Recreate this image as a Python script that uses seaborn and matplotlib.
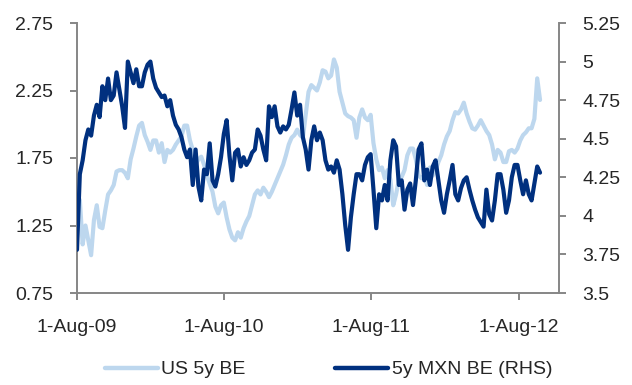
import numpy as np
import pandas as pd
import matplotlib
matplotlib.use("Agg")
import matplotlib.pyplot as plt
import seaborn as sns
from matplotlib.lines import Line2D
from matplotlib.ticker import FuncFormatter

start_date = "2009-08-01"

us_5y_be = [
    1.40, 1.44, 1.11, 1.25, 1.14, 1.03, 1.29, 1.40, 1.24, 1.23,
    1.36, 1.48, 1.51, 1.55, 1.65, 1.66, 1.66, 1.64, 1.60, 1.74,
    1.82, 1.91, 1.99, 2.01, 1.92, 1.87, 1.81, 1.88, 1.88, 1.79,
    1.86, 1.72, 1.81, 1.79, 1.81, 1.85, 1.88, 1.91, 1.99, 1.99,
    1.88, 1.81, 1.70, 1.74, 1.76, 1.70, 1.62, 1.56, 1.50, 1.39,
    1.34, 1.40, 1.42, 1.31, 1.22, 1.16, 1.14, 1.20, 1.16, 1.23,
    1.28, 1.32, 1.40, 1.48, 1.51, 1.48, 1.53, 1.50, 1.46, 1.50,
    1.55, 1.60, 1.65, 1.70, 1.77, 1.85, 1.90, 1.92, 1.96, 1.92,
    1.90, 2.07, 2.24, 2.29, 2.27, 2.25, 2.31, 2.40, 2.39, 2.34,
    2.36, 2.48, 2.42, 2.24, 2.16, 2.08, 2.06, 2.05, 2.03, 1.90,
    2.05, 2.11, 2.05, 2.03, 2.07, 1.86, 1.74, 1.66, 1.68, 1.60,
    1.66, 1.59, 1.40, 1.48, 1.59, 1.61, 1.66, 1.77, 1.82, 1.82,
    1.74, 1.62, 1.60, 1.62, 1.55, 1.68, 1.62, 1.66, 1.72, 1.77,
    1.85, 1.91, 1.95, 2.03, 2.09, 2.08, 2.11, 2.16, 2.08, 2.02,
    1.97, 1.96, 1.99, 2.03, 1.99, 1.95, 1.92, 1.85, 1.74, 1.81,
    1.79, 1.72, 1.72, 1.80, 1.81, 1.79, 1.82, 1.88, 1.92, 1.94,
    1.97, 1.97, 2.04, 2.34, 2.18,
]

mxn_5y_be = [
    3.78, 4.27, 4.36, 4.49, 4.56, 4.52, 4.65, 4.72, 4.64, 4.84,
    4.75, 4.89, 4.75, 4.78, 4.93, 4.82, 4.71, 4.57, 5.00, 4.93,
    4.86, 4.95, 4.84, 4.84, 4.93, 4.98, 5.00, 4.89, 4.83, 4.80,
    4.77, 4.78, 4.71, 4.75, 4.65, 4.59, 4.56, 4.51, 4.43, 4.38,
    4.43, 4.20, 4.43, 4.19, 4.10, 4.30, 4.27, 4.47, 4.23, 4.19,
    4.27, 4.38, 4.53, 4.62, 4.39, 4.23, 4.41, 4.43, 4.32, 4.38,
    4.33, 4.36, 4.41, 4.43, 4.56, 4.52, 4.43, 4.36, 4.71, 4.64,
    4.71, 4.58, 4.54, 4.58, 4.56, 4.59, 4.69, 4.80, 4.65, 4.72,
    4.51, 4.43, 4.30, 4.49, 4.58, 4.49, 4.54, 4.49, 4.36, 4.30,
    4.32, 4.28, 4.36, 4.30, 4.14, 3.94, 3.78, 3.99, 4.14, 4.27,
    4.27, 4.23, 4.33, 4.38, 4.40, 4.17, 3.92, 4.14, 4.10, 4.20,
    4.10, 4.36, 4.49, 4.45, 4.20, 4.23, 4.04, 4.17, 4.21, 4.07,
    4.23, 4.43, 4.47, 4.23, 4.30, 4.20, 4.32, 4.36, 4.23, 4.10,
    4.02, 4.14, 4.23, 4.33, 4.14, 4.10, 4.18, 4.23, 4.25, 4.17,
    4.10, 4.04, 3.99, 3.96, 3.93, 4.17, 4.01, 3.97, 4.10, 4.27,
    4.27, 4.17, 4.02, 4.10, 4.25, 4.33, 4.33, 4.23, 4.14, 4.23,
    4.14, 4.10, 4.21, 4.32, 4.28,
]

x_tick_dates = ["2009-08-01", "2010-08-01", "2011-08-01", "2012-08-01"]
x_tick_labels = ["1-Aug-09", "1-Aug-10", "1-Aug-11", "1-Aug-12"]
left_ticks = [0.75, 1.25, 1.75, 2.25, 2.75]
right_ticks = [3.5, 3.75, 4.0, 4.25, 4.5, 4.75, 5.0, 5.25]
series_names = ["US 5y BE", "5y MXN BE (RHS)"]

# ---- styling ----
light = "#BDD7EE"
dark = "#00307F"
spine_col = "#868686"
fs = 14

sns.set_style("white")
plt.rcParams["font.family"] = ["Liberation Sans", "DejaVu Sans"]

dates = pd.date_range(start_date, periods=len(mxn_5y_be), freq="7D")
df = pd.DataFrame({"date": dates, "us": us_5y_be, "mxn": mxn_5y_be})

W, H = 632, 385
fig = plt.figure(figsize=(W / 100, H / 100), dpi=100)
L, R, T, B = 77, 559, 23, 293
ax = fig.add_axes([L / W, 1 - B / H, (R - L) / W, (B - T) / H])

sns.lineplot(data=df, x="date", y="us", ax=ax, color=light, lw=3.0, legend=False)
ax2 = ax.twinx()
sns.lineplot(data=df, x="date", y="mxn", ax=ax2, color=dark, lw=3.0, legend=False)

ax.set_xlim(pd.Timestamp("2009-08-01"), pd.Timestamp("2012-11-08"))
ax.set_ylim(0.75, 2.75)
ax2.set_ylim(3.5, 5.25)

ax.set_xticks(pd.to_datetime(x_tick_dates))
ax.set_xticklabels(x_tick_labels)
ax.set_yticks(left_ticks)
ax.yaxis.set_major_formatter(FuncFormatter(lambda v, p: f"{v:.2f}"))
ax2.set_yticks(right_ticks)
ax2.yaxis.set_major_formatter(FuncFormatter(lambda v, p: f"{v:g}"))

for a in (ax, ax2):
    a.set_xlabel("")
    a.set_ylabel("")
    a.grid(False)
    a.spines["top"].set_visible(False)
    for s in ("left", "right", "bottom"):
        a.spines[s].set_color(spine_col)
        a.spines[s].set_linewidth(1.4)

ax.spines["right"].set_visible(False)
ax2.spines["left"].set_visible(False)
ax2.spines["bottom"].set_visible(False)

ax.tick_params(axis="x", direction="out", length=5, width=1.4, color=spine_col,
               labelsize=fs, pad=14, bottom=True)
ax.tick_params(axis="y", direction="out", length=5, width=1.4, color=spine_col,
               labelsize=fs, pad=12, left=True)
ax2.tick_params(axis="y", direction="out", length=5, width=1.4, color=spine_col,
                labelsize=fs, pad=12, right=True)

handles = [Line2D([], [], color=light, lw=3.2), Line2D([], [], color=dark, lw=3.2)]
fig.legend(handles, series_names, loc="center", bbox_to_anchor=(0.52, 0.04),
           ncol=2, frameon=False, fontsize=fs, handlelength=2.7,
           handletextpad=0.2, columnspacing=4.6)

fig.savefig("out.png", dpi=100)
